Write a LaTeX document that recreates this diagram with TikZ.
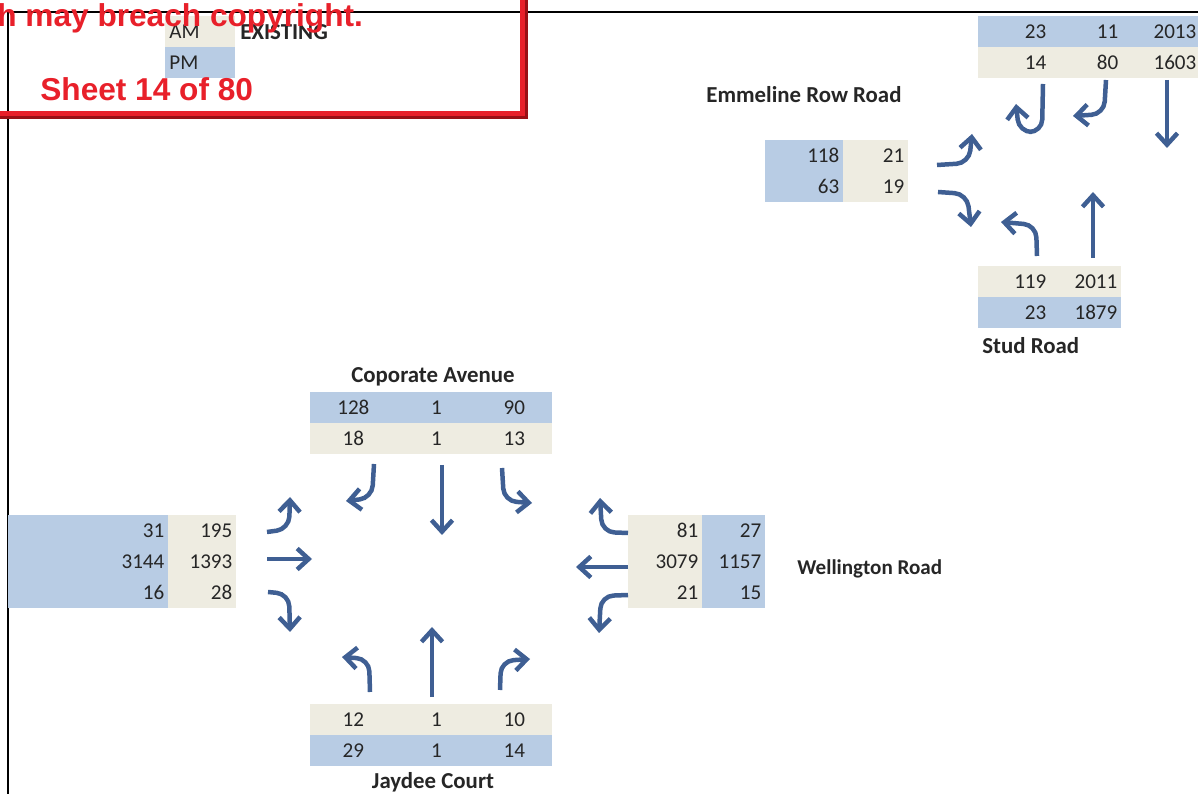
\documentclass[tikz,border=0pt]{standalone}
\usepackage{fontspec}
\setmainfont{Carlito}
\newfontfamily\stampfont{Liberation Sans}
\usetikzlibrary{arrows.meta}

\definecolor{pmblue}{HTML}{B8CCE4}
\definecolor{amtan}{HTML}{EEECE1}
\definecolor{moveblue}{HTML}{3F5F93}
\definecolor{stampred}{HTML}{E8202A}
\definecolor{stampshade}{HTML}{9A1015}

\begin{document}
\begin{tikzpicture}[
      x=0.2mm, y=-0.2mm,
      font=\fontsize{12pt}{14pt}\selectfont,
      cell/.style={anchor=north west, inner xsep=0.8mm, inner ysep=0pt,
                   minimum height=6.2mm, text width=#1, align=right,
                   text=black!85},
      am/.style={fill=amtan},
      pm/.style={fill=pmblue},
      mid/.style={align=center},
      road/.style={inner sep=0pt, text=black!85,
                   font=\fontsize{13pt}{15pt}\selectfont\bfseries},
      move/.style={draw=moveblue, line width=0.9mm, rounded corners=2.5mm,
                   -{Straight Barb[length=2.3mm, width=4.2mm]}},
      stamp/.style={inner sep=0pt, text=stampred,
                    font=\stampfont\fontsize{18pt}{20pt}\selectfont\bfseries}
    ]
    \useasboundingbox (0,0) rectangle (1198,794);
    \clip (0,0) rectangle (1198,794);

    % --- Sheet frame ---------------------------------------------------------
    \draw[line width=0.4mm] (8,794) -- (8,12) -- (1198,12);

    % --- Key -----------------------------------------------------------------
    \node[cell=12.4mm, am, align=left] (keyam) at (165,16) {AM};
    \node[cell=12.4mm, pm, align=left] (keypm) at (165,47) {PM};
    \node[road, anchor=west] (keyname) at (240,32) {EXISTING};

    % --- Emmeline Row Road / Stud Road ---------------------------------------
    \node[cell=12.8mm, pm] (esN11) at (978,16) {23};
    \node[cell=12.8mm, pm] (esN12) at (1050,16) {11};
    \node[cell=14mm, pm]   (esN13) at (1122,16) {2013};
    \node[cell=12.8mm, am] (esN21) at (978,47) {14};
    \node[cell=12.8mm, am] (esN22) at (1050,47) {80};
    \node[cell=14mm, am]   (esN23) at (1122,47) {1603};

    \node[road, anchor=west] (emmeline) at (706,95) {Emmeline Row Road};

    \node[cell=14mm, pm]   (esW11) at (765,140) {118};
    \node[cell=11.4mm, am] (esW12) at (843,140) {21};
    \node[cell=14mm, pm]   (esW21) at (765,171) {63};
    \node[cell=11.4mm, am] (esW22) at (843,171) {19};

    \node[cell=12.8mm, am] (esS11) at (978,266) {119};
    \node[cell=12.6mm, am] (esS12) at (1050,266) {2011};
    \node[cell=12.8mm, pm] (esS21) at (978,297) {23};
    \node[cell=12.6mm, pm] (esS22) at (1050,297) {1879};

    \node[road, anchor=west] (stud) at (982,346) {Stud Road};

    % turning movements
    \draw[move] (1043,84) -- (1042,132) -- (1019,132) -- (1016,104);
    \draw[move] (1106,80) -- (1104,114) -- (1073,116);
    \draw[move] (1167,80) -- (1167,148);
    \draw[move] (937,165) -- (969,163) -- (972,134);
    \draw[move] (938,192) -- (967,194) -- (971,227);
    \draw[move] (1037,256) -- (1036,225) -- (1001,222);
    \draw[move] (1093,258) -- (1093,192);

    % --- Coporate Avenue / Wellington Road / Jaydee Court --------------------
    \node[road] (coporate) at (433,377) {Coporate Avenue};

    \node[cell=15.6mm, pm, mid] (cwN11) at (310,392) {128};
    \node[cell=14.4mm, pm, mid] (cwN12) at (396,392) {1};
    \node[cell=13.6mm, pm, mid] (cwN13) at (476,392) {90};
    \node[cell=15.6mm, am, mid] (cwN21) at (310,423) {18};
    \node[cell=14.4mm, am, mid] (cwN22) at (396,423) {1};
    \node[cell=13.6mm, am, mid] (cwN23) at (476,423) {13};

    \node[cell=30.4mm, pm] (cwW11) at (8,515) {31};
    \node[cell=12mm, am]   (cwW12) at (168,515) {195};
    \node[cell=30.4mm, pm] (cwW21) at (8,546) {3144};
    \node[cell=12mm, am]   (cwW22) at (168,546) {1393};
    \node[cell=30.4mm, pm] (cwW31) at (8,577) {16};
    \node[cell=12mm, am]   (cwW32) at (168,577) {28};

    \node[cell=13.2mm, am] (cwE11) at (628,515) {81};
    \node[cell=11mm, pm]   (cwE12) at (702,515) {27};
    \node[cell=13.2mm, am] (cwE21) at (628,546) {3079};
    \node[cell=11mm, pm]   (cwE22) at (702,546) {1157};
    \node[cell=13.2mm, am] (cwE31) at (628,577) {21};
    \node[cell=11mm, pm]   (cwE32) at (702,577) {15};

    \node[road, anchor=west, font=\fontsize{12pt}{14pt}\selectfont\bfseries]
      (wellington) at (797,569) {Wellington Road};

    \node[cell=15.6mm, am, mid] (cwS11) at (310,704) {12};
    \node[cell=14.4mm, am, mid] (cwS12) at (396,704) {1};
    \node[cell=13.6mm, am, mid] (cwS13) at (476,704) {10};
    \node[cell=15.6mm, pm, mid] (cwS21) at (310,735) {29};
    \node[cell=14.4mm, pm, mid] (cwS22) at (396,735) {1};
    \node[cell=13.6mm, pm, mid] (cwS23) at (476,735) {14};

    \node[road] (jaydee) at (433,782) {Jaydee Court};

    % turning movements, north approach
    \draw[move] (374,464) -- (372,498) -- (346,501);
    \draw[move] (442,465) -- (442,535);
    \draw[move] (502,468) -- (504,501) -- (532,503);
    % west approach
    \draw[move] (267,532) -- (289,529) -- (290,497);
    \draw[move] (267,559) -- (312,559);
    \draw[move] (268,592) -- (289,594) -- (290,632);
    % east approach
    \draw[move] (628,533) -- (602,532) -- (600,498);
    \draw[move] (628,567) -- (576,567);
    \draw[move] (628,595) -- (601,596) -- (599,633);
    % south approach
    \draw[move] (370,692) -- (369,659) -- (342,657);
    \draw[move] (432,697) -- (432,627);
    \draw[move] (500,690) -- (501,661) -- (530,659);

    % --- Copy stamp ----------------------------------------------------------
    \draw[stampshade, line width=1mm] (-10,-10) rectangle (525,117);
    \draw[stampred, line width=1mm] (-12,-12) rectangle (522,114);
    \node[stamp, anchor=base west] (stampline) at (-3,27)
      {h may breach copyright.};
    \node[stamp, anchor=base west] (stampsheet) at (40,101)
      {Sheet 14 of 80};
  \end{tikzpicture}
\end{document}
